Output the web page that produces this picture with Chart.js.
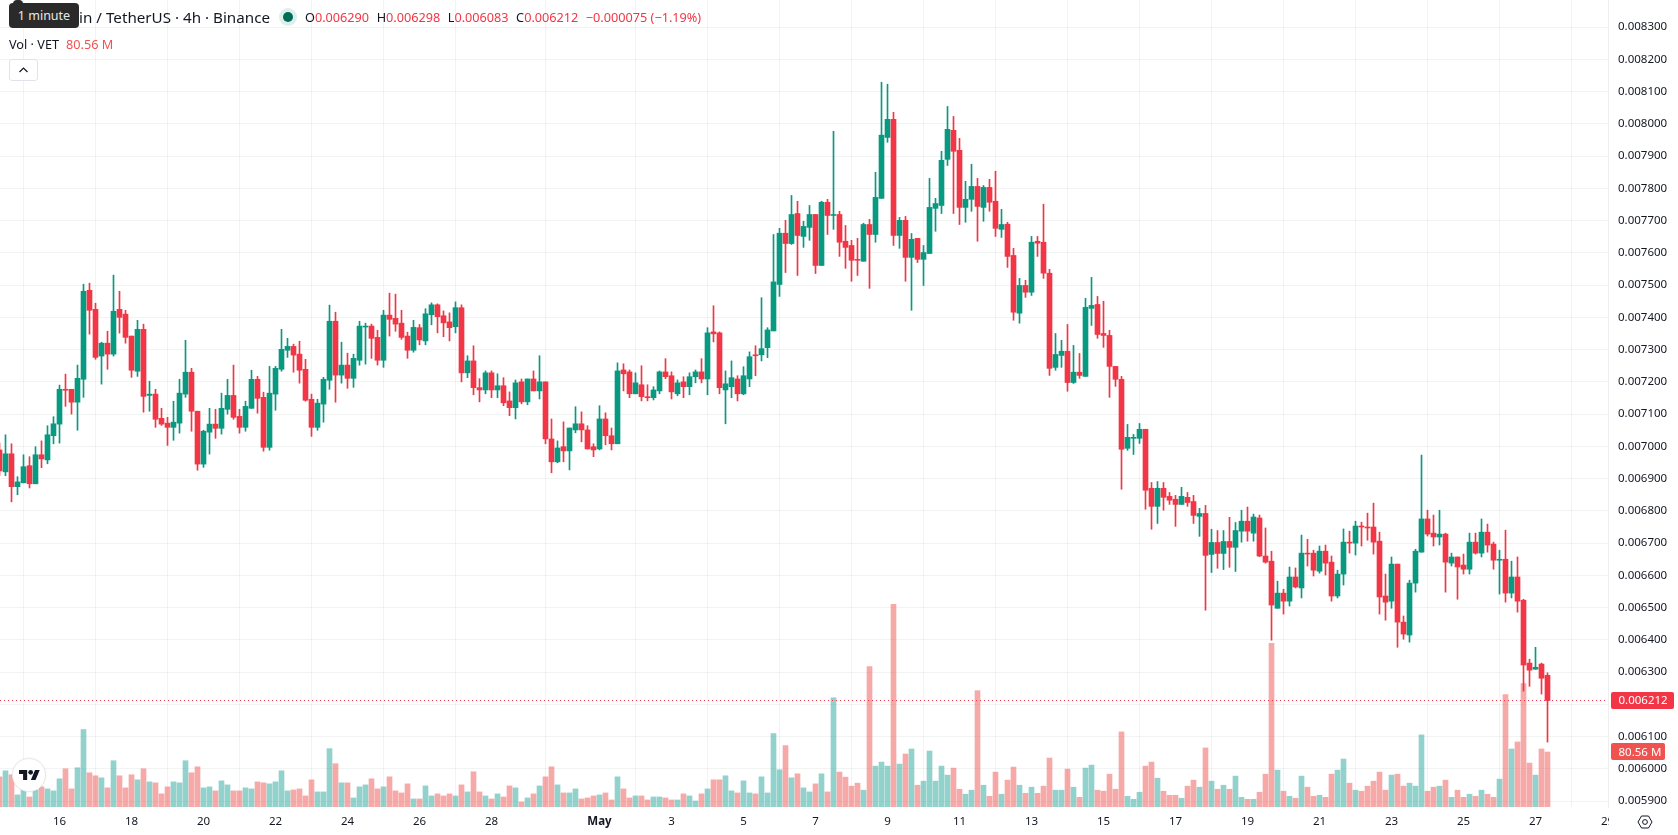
<!DOCTYPE html>
<html>
<head>
<meta charset="utf-8">
<title>VET / USDT 4h</title>
<script src="https://cdn.jsdelivr.net/npm/chart.js@4"></script>
<style>
    html, body { margin: 0; padding: 0; background: #fff; overflow: hidden; }
    body { width: 1678px; height: 835px; position: relative; font-family: "Noto Sans", sans-serif; color: #131722; }
    canvas { position: absolute; left: 0; top: 0; }
    .abs { position: absolute; white-space: nowrap; }
    #title { right: calc(1678px - 270px); top: 7px; font-size: 15.2px; line-height: 20px; }
    #ohlc { left: 305px; top: 8px; font-size: 12.7px; line-height: 18px; }
    #ohlc span { margin-right: 7.5px; }
    #ohlc b { font-weight: 400; color: #F23645; }
    #volLegend { left: 9px; top: 35px; font-size: 12.7px; line-height: 18px; }
    #volLegend span { color: #EF5350; margin-left: 7px; }
    #status { left: 279px; top: 8px; width: 18px; height: 18px; border-radius: 50%; background: #dcefeb; }
    #status i { position: absolute; left: 4px; top: 4px; width: 10px; height: 10px; border-radius: 50%; background: #006b57; }
    #collapse { left: 9px; top: 59px; width: 27px; height: 20px; border: 1px solid #e0e3eb; border-radius: 3px; background: #fff; }
    #hint { left: 9px; top: 3px; width: 70px; height: 25px; border-radius: 4px; background: #2a2a2a; color: #e8e8e8; font-size: 12.5px; line-height: 25px; text-align: center; }
    #hintNub { left: 13px; top: 0; width: 10px; height: 4px; background: #2a2a2a; border-radius: 5px 5px 0 0; }
    #axisCut { left: 1609px; top: 810px; width: 69px; height: 25px; background: #fff; }
    #tvBadge { left: 12px; top: 758px; width: 34px; height: 34px; border-radius: 50%; background: #fff; border: 1px solid #e9e9ea; box-sizing: border-box; box-shadow: 0 0 2px rgba(0,0,0,.08); }
</style>
</head>
<body>
<canvas id="myChart" width="1678" height="835"></canvas>

<div class="abs" id="title">VeChain / TetherUS · 4h · Binance</div>
<div class="abs" id="status"><i></i></div>
<div class="abs" id="ohlc"><span>O<b>0.006290</b></span><span>H<b>0.006298</b></span><span>L<b>0.006083</b></span><span>C<b>0.006212</b></span><span><b>−0.000075 (−1.19%)</b></span></div>
<div class="abs" id="volLegend">Vol · VET<span>80.56 M</span></div>
<div class="abs" id="collapse">
    <svg width="27" height="20" style="position:absolute;left:0;top:0"><path d="M9.5 12 L13.5 8 L17.5 12" fill="none" stroke="#131722" stroke-width="1.2"/></svg>
</div>
<div class="abs" id="hintNub"></div>
<div class="abs" id="hint">1 minute</div>
<div class="abs" id="axisCut"></div>
<svg class="abs" style="left:1636px;top:814px" width="18" height="16" viewBox="-9 -8 18 16">
    <path d="M-7 0 L-3.5 -6 L3.5 -6 L7 0 L3.5 6 L-3.5 6 Z" fill="none" stroke="#131722" stroke-width="1"/>
    <circle r="2.4" fill="none" stroke="#131722" stroke-width="1"/>
</svg>
<div class="abs" id="tvBadge">
    <svg style="position:absolute;left:6px;top:10.5px" width="21" height="10.5" viewBox="0 4 36 18">
        <path d="M14 22H7V11H0V4h14v18zM28 22h-8l7.5-18h8L28 22z" fill="#131722"/>
        <circle cx="20" cy="8" r="4" fill="#131722"/>
    </svg>
</div>

<script>
// Prices are in millionths of a USDT, one candle every 4h starting 14 Apr 08:00
const opens = [
    6989,6921,6977,6875,6887,6940,6884,6974,6958,7033,
    7069,7177,7177,7137,7208,7484,7425,7280,7320,7286,
    7425,7410,7342,7233,7363,7158,7162,7087,7072,7059,
    7072,7162,7230,7109,6945,7044,7069,7056,7115,7158,
    7093,7059,7118,7208,7152,6997,7162,7239,7298,7310,
    7286,7239,7146,7059,7131,7205,7388,7221,7252,7211,
    7267,7370,7373,7338,7267,7407,7397,7382,7342,7298,
    7368,7327,7408,7439,7405,7386,7371,7430,7228,7265,
    7182,7175,7228,7175,7188,7141,7120,7200,7138,7209,
    7172,7200,7023,6952,6999,6986,7051,7070,7051,6999,
    6992,7085,7033,7008,7237,7231,7163,7191,7154,7151,
    7172,7231,7219,7163,7200,7185,7216,7231,7209,7355,
    7352,7175,7185,7209,7163,7209,7284,7284,7306,7358,
    7502,7661,7629,7722,7651,7679,7719,7561,7757,7716,
    7719,7636,7623,7580,7574,7688,7657,7769,7958,8014,
    7654,7701,7586,7645,7580,7598,7738,7747,7890,7980,
    7918,7741,7766,7806,7741,7803,7760,7673,7689,7592,
    7413,7499,7478,7636,7633,7537,7245,7282,7295,7198,
    7230,7217,7428,7440,7350,7344,7248,7208,6994,7025,
    7025,7053,6870,6814,6870,6845,6836,6820,6842,6829,
    6783,6792,6665,6702,6668,6705,6687,6737,6768,6731,
    6778,6660,6644,6498,6545,6520,6595,6561,6669,6669,
    6613,6675,6641,6536,6604,6703,6700,6753,6750,6750,
    6706,6536,6520,6635,6455,6415,6576,6672,6775,6731,
    6719,6728,6638,6657,6632,6619,6703,6669,6734,6697,
    6647,6650,6545,6595,6523,6328,6309,6325,6290
];
const highs = [
    7010,7036,7008,6906,6974,6968,6999,7017,7064,7092,
    7190,7224,7177,7252,7503,7506,7444,7323,7357,7531,
    7481,7422,7342,7391,7379,7202,7177,7118,7090,7140,
    7208,7329,7242,7109,7050,7118,7115,7165,7208,7252,
    7115,7140,7236,7217,7168,7248,7248,7363,7335,7317,
    7326,7270,7162,7146,7214,7438,7416,7323,7289,7286,
    7388,7382,7379,7360,7422,7475,7472,7422,7354,7391,
    7378,7427,7445,7442,7420,7414,7448,7439,7281,7312,
    7210,7234,7234,7225,7213,7169,7206,7209,7209,7234,
    7281,7200,7085,7017,7076,7057,7123,7107,7064,7008,
    7126,7104,7057,7259,7256,7237,7228,7250,7191,7185,
    7234,7272,7231,7206,7216,7228,7237,7272,7368,7436,
    7355,7234,7265,7219,7247,7293,7312,7461,7368,7657,
    7676,7701,7778,7760,7698,7747,7719,7760,7766,7977,
    7729,7685,7639,7645,7692,7704,7850,8129,8123,8036,
    7710,7713,7660,7645,7623,7831,7769,7915,8054,8023,
    7955,7822,7875,7831,7809,7828,7853,7735,7695,7614,
    7521,7515,7651,7651,7751,7549,7350,7329,7378,7313,
    7288,7459,7524,7465,7450,7360,7248,7217,7068,7037,
    7071,7053,6888,6891,6888,6857,6848,6873,6857,6848,
    6808,6817,6743,6739,6739,6780,6764,6802,6812,6790,
    6787,6747,6675,6582,6557,6626,6623,6725,6712,6678,
    6691,6694,6660,6616,6744,6737,6768,6765,6793,6824,
    6734,6604,6657,6635,6474,6585,6681,6973,6802,6787,
    6802,6731,6669,6657,6666,6731,6731,6775,6759,6703,
    6678,6740,6644,6657,6526,6340,6377,6328,6298
];
const lows = [
    6910,6909,6828,6850,6887,6871,6884,6934,6946,7008,
    7010,7124,7100,7050,7152,7348,7270,7193,7239,7280,
    7351,7320,7214,7217,7106,7109,7059,7065,7003,7019,
    7041,7152,7047,6926,6935,6976,7025,7038,7100,7084,
    7041,7047,7118,7103,6985,6988,7112,7233,7276,7230,
    7196,7140,7031,7050,7075,7177,7137,7196,7180,7183,
    7252,7255,7273,7252,7245,7342,7357,7332,7273,7292,
    7315,7315,7377,7352,7340,7327,7352,7200,7213,7160,
    7138,7163,7151,7151,7126,7095,7085,7132,7129,7172,
    7147,7008,6918,6949,6952,6927,7042,7014,6992,6968,
    6989,7005,6989,7008,7172,7151,7163,7141,7141,7144,
    7163,7210,7147,7157,7151,7160,7197,7197,7160,7324,
    7163,7070,7151,7141,7160,7185,7219,7265,7275,7358,
    7465,7539,7626,7530,7617,7639,7536,7561,7657,7673,
    7589,7552,7512,7530,7574,7490,7633,7769,7943,7623,
    7614,7512,7422,7570,7499,7598,7667,7722,7871,7722,
    7688,7695,7729,7636,7698,7729,7651,7648,7555,7391,
    7382,7462,7468,7589,7521,7220,7236,7245,7171,7195,
    7211,7217,7375,7335,7307,7152,7186,6867,6988,6975,
    7009,6805,6743,6761,6802,6820,6752,6820,6814,6761,
    6721,6492,6609,6622,6618,6625,6612,6703,6706,6706,
    6658,6638,6399,6498,6480,6505,6561,6530,6629,6598,
    6607,6601,6520,6530,6570,6669,6663,6691,6709,6666,
    6480,6461,6498,6377,6402,6393,6548,6672,6722,6691,
    6694,6548,6629,6526,6604,6604,6666,6657,6672,6619,
    6542,6517,6530,6486,6241,6256,6309,6232,6083
];
const closes = [
    6924,6977,6875,6890,6937,6884,6974,6961,7036,7070,
    7177,7174,7137,7211,7481,7422,7276,7320,7286,7419,
    7400,7338,7236,7363,7155,7162,7084,7069,7059,7075,
    7165,7230,7109,6945,7047,7069,7056,7118,7158,7090,
    7059,7124,7208,7149,6997,7165,7242,7301,7310,7283,
    7236,7143,7059,7134,7208,7388,7221,7252,7211,7273,
    7373,7373,7335,7267,7407,7394,7379,7338,7298,7369,
    7330,7411,7439,7402,7383,7368,7430,7228,7265,7182,
    7175,7228,7175,7188,7135,7120,7197,7138,7209,7172,
    7200,7023,6952,6995,6986,7057,7070,7051,6992,6989,
    7085,7033,7008,7234,7225,7163,7197,7154,7151,7175,
    7231,7216,7169,7197,7185,7216,7231,7209,7352,7349,
    7182,7194,7213,7163,7219,7278,7281,7303,7361,7510,
    7661,7629,7719,7654,7682,7719,7561,7757,7716,7719,
    7633,7617,7577,7577,7688,7657,7772,7965,8014,7654,
    7701,7586,7642,7580,7601,7741,7753,7887,7983,7915,
    7741,7766,7806,7744,7803,7757,7676,7688,7589,7416,
    7499,7478,7633,7630,7537,7242,7285,7295,7198,7230,
    7220,7431,7437,7347,7344,7248,7208,6991,7028,7028,
    7053,6864,6814,6870,6842,6833,6820,6845,6826,6786,
    6792,6662,6702,6668,6705,6687,6739,6768,6737,6781,
    6660,6641,6508,6545,6520,6595,6564,6669,6666,6616,
    6675,6638,6536,6604,6703,6700,6753,6750,6747,6703,
    6533,6517,6635,6455,6418,6576,6675,6775,6728,6719,
    6728,6641,6657,6626,6619,6703,6669,6734,6694,6647,
    6650,6545,6595,6520,6322,6306,6315,6281,6212
];
// Volume per candle, millions of VET
const volumes = [
    44.2,53,47.2,17.7,26.5,14.7,25,29.5,26.5,23.6,
    41.3,56,26.5,57.5,113.5,50.1,45.7,42.7,28,67.8,
    45.7,28,47.2,39.8,56,36.8,35.4,19.2,29.5,36.8,
    35.4,67.8,50.1,58.9,28,29.5,23.6,38.3,32.4,23.6,
    23.6,28,26.5,36.8,35.4,33.9,36.8,53,23.6,25,
    26.5,16.2,39.8,22.1,22.1,85.5,63.4,35.4,35.4,13.3,
    29.5,32.4,41.3,26.5,29.5,44.2,23.6,20.6,33.9,11.8,
    11.8,30.9,16.2,19.2,16.2,19.2,16.2,32.4,22.1,51.6,
    22.1,16.2,11.8,19.2,14.7,30.9,28,7.4,13.3,19.2,
    30.9,44.2,58.9,32.4,20.6,20.6,26.5,11.8,13.3,16.2,
    17.7,20.6,10.3,44.2,26.5,13.3,16.2,16.2,10.3,14.7,
    14.7,13.3,10.3,10.3,19.2,16.2,8.8,19.2,26.5,39.8,
    39.8,45.7,23.6,20.6,38.3,20.6,19.2,44.2,20.6,107.6,
    54.5,89.9,42.7,48.6,28,22.1,33.9,48.6,22.1,160,
    51.1,43.7,30.5,34.9,24.6,205.8,59.9,65.8,59.9,297,
    62.9,77.6,85,31.9,37.8,82,37.8,59.9,46.7,57,
    26,18.7,24.6,170.4,31.9,15.7,51.1,18.7,39.3,58.5,
    31.9,20.1,29,20.1,30.5,71.7,24.6,24.6,55.5,29,
    14.2,57,61.4,24.6,23.1,48.1,26,110,15.7,11.3,
    21.6,59.9,65.8,42.2,23.1,17.2,17.2,12.8,30.5,39.3,
    29,86.5,37.8,26,31.9,26,45.2,14.2,11.3,11.3,
    21.6,48.1,239.7,54,23.1,15.7,12.8,45.2,29,15.7,
    17.2,14.2,48.1,54,70.2,34.9,24.6,23.1,30.5,37.8,
    51.1,24.6,46.7,48.1,30.5,34.9,30.5,105.6,23.1,29,
    30.5,39.3,14.2,24.6,14.2,18.7,15.7,24.6,18.7,14.2,
    40.8,164.6,85,95.3,180.8,64.3,46.7,85,80.56
];

// Axis ticks: candle index of each day label, and the price levels
const dayTicks = [10,22,34,46,58,70,82,100,112,124,136,148,160,172,184,196,208,220,232,244,256,268];
const dayLabels = ['16','18','20','22','24','26','28','May','3','5','7','9','11','13','15','17','19','21','23','25','27','29'];
const priceTicks = [5900,6000,6100,6200,6300,6400,6500,6600,6700,6800,6900,7000,7100,7200,7300,7400,7500,7600,7700,7800,7900,8000,8100,8200,8300];

const lastPrice = closes[closes.length - 1];
const lastVolume = volumes[volumes.length - 1];

const GREEN = '#089981', RED = '#F23645';
const VOL_GREEN = 'rgba(38, 166, 154, 0.5)', VOL_RED = 'rgba(239, 83, 80, 0.5)';
const GRID = 'rgba(42, 46, 57, 0.06)';
const FONT = '"Noto Sans"';
const AXIS_SIZE = 11.5;

// visible window of the panes
const xMin = 0.5 / 6, xMax = 1608.5 / 6;

const isUp = closes.map((c, i) => c >= opens[i]);
const candleColors = isUp.map(u => u ? GREEN : RED);
const volumeColors = isUp.map(u => u ? VOL_GREEN : VOL_RED);

// price and volume tags drawn over the right axis
const axisTags = {
    id: 'axisTags',
    afterDraw(chart) {
        const c = chart.ctx;
        const tag = (y, w, color, text) => {
            c.fillStyle = color;
            c.beginPath();
            c.roundRect(1611, Math.floor(y) - 8, w, 17, 2);
            c.fill();
            c.fillStyle = '#fff';
            c.font = AXIS_SIZE + 'px ' + FONT;
            c.textAlign = 'left';
            c.textBaseline = 'middle';
            c.fillText(text, 1618.5, y + 0.5);
        };
        tag(chart.scales.y.getPixelForValue(lastPrice), 63, RED, (lastPrice / 1e6).toFixed(6));
        tag(chart.scales.vol.getPixelForValue(lastVolume), 54, '#EF5350', lastVolume.toFixed(2) + ' M');
    }
};

let ctx = document.getElementById('myChart').getContext('2d');
let myChart = new Chart(ctx, {
    type: 'bar',
    data: {
        datasets: [
            {
                type: 'line',
                data: [{ x: xMin, y: lastPrice }, { x: xMax, y: lastPrice }],
                borderColor: RED,
                borderWidth: 1,
                borderDash: [1, 3],
                pointRadius: 0,
                order: 0
            },
            {
                data: opens.map((o, i) => ({ x: i, y: [o, closes[i]] })),
                backgroundColor: candleColors,
                barThickness: 5,
                grouped: false,
                order: 1
            },
            {
                data: lows.map((l, i) => ({ x: i, y: [l, highs[i]] })),
                backgroundColor: candleColors,
                barThickness: 1,
                grouped: false,
                order: 2
            },
            {
                data: volumes.map((v, i) => ({ x: i, y: v })),
                yAxisID: 'vol',
                backgroundColor: volumeColors,
                barThickness: 5,
                grouped: false,
                order: 3
            }
        ]
    },
    options: {
        responsive: false,
        animation: false,
        events: [],
        layout: { padding: 0 },
        plugins: { legend: { display: false }, tooltip: { enabled: false } },
        scales: {
            x: {
                type: 'linear',
                offset: false,
                min: xMin,
                max: xMax,
                afterBuildTicks: s => { s.ticks = dayTicks.map(v => ({ value: v })); },
                afterFit: s => { s.height = 28; s.paddingLeft = 0; s.paddingRight = 0; },
                grid: { color: GRID, drawTicks: false },
                border: { display: false },
                ticks: {
                    autoSkip: false,
                    maxRotation: 0,
                    padding: 8,
                    color: '#131722',
                    font: c => ({ family: FONT, size: AXIS_SIZE, weight: c.tick && c.tick.label === 'May' ? 'bold' : 'normal' }),
                    callback: (v, i) => dayLabels[i]
                }
            },
            y: {
                position: 'right',
                min: 5881.77,
                max: 8384.1,
                afterBuildTicks: s => { s.ticks = priceTicks.map(v => ({ value: v })); },
                afterFit: s => { s.width = 70; s.paddingTop = 0; s.paddingBottom = 0; },
                grid: { color: GRID, drawTicks: false },
                border: { color: '#eeeeef' },
                ticks: {
                    autoSkip: false,
                    padding: 10,
                    color: '#131722',
                    font: { family: FONT, size: AXIS_SIZE },
                    callback: v => (v / 1e6).toFixed(6)
                }
            },
            vol: {
                display: false,
                min: 0,
                max: 1182
            }
        }
    },
    plugins: [axisTags]
});
</script>
</body>
</html>
